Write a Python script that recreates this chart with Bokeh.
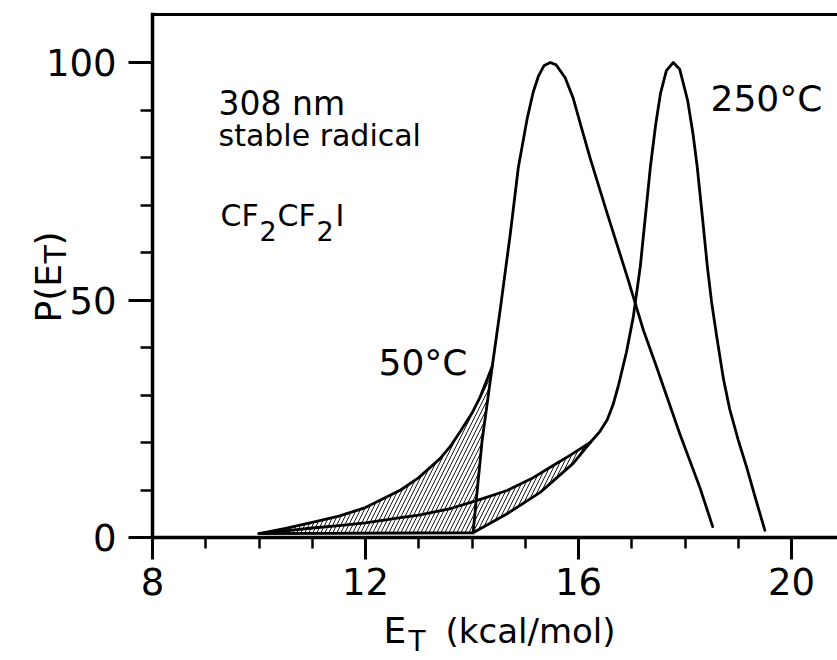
import math
from bokeh.plotting import figure
from bokeh.models import Range1d, FixedTicker, Label, LinearAxis
from bokeh.embed import file_html
from bokeh.resources import INLINE

# ---------------- data ----------------
# 50 C distribution (upper branch of hatched band + peak)
e_50 = [10.0, 10.5, 11.0, 11.5, 12.0, 12.66, 13.0, 13.4, 13.6, 13.78, 14.0, 14.15, 14.38,
        14.53, 14.72, 14.87, 15.04, 15.15, 15.25, 15.35, 15.47, 15.58, 15.75, 15.9,
        16.05, 16.22, 16.54, 16.92, 17.22, 17.47, 17.9, 18.28, 18.52]
p_50 = [0.8, 1.9, 3.2, 4.5, 6.3, 10.0, 12.6, 16.6, 19.3, 22.3, 26.2, 29.5, 36.0,
        48.0, 64.0, 77.9, 88.4, 93.8, 97.2, 99.3, 100.0, 99.5, 96.8, 92.5,
        86.5, 79.8, 68.2, 54.7, 43.6, 35.8, 21.9, 10.5, 2.3]
# 50 C alternative (steep) onset
e_50_alt = [14.02, 14.19, 14.38]
p_50_alt = [1.0, 20.4, 36.0]

# 250 C distribution (slow onset + peak)
e_250 = [10.0, 10.5, 11.0, 11.5, 12.0, 12.66, 13.0, 13.6, 14.1, 14.66, 15.15, 15.5,
         15.84, 16.22, 16.4, 16.54, 16.65, 16.75, 16.9, 17.03, 17.16, 17.35, 17.45,
         17.54, 17.65, 17.78, 17.9, 18.05, 18.15, 18.23, 18.34, 18.42, 18.5, 18.6,
         18.72, 18.84, 19.0, 19.16, 19.33, 19.5]
p_250 = [0.8, 1.4, 2.0, 2.5, 3.1, 4.2, 4.7, 6.1, 7.8, 9.9, 12.6, 15.0,
         17.3, 20.0, 22.3, 24.8, 28.0, 32.0, 39.0, 46.5, 57.0, 78.0, 87.0,
         93.5, 98.3, 100.0, 98.6, 92.0, 85.0, 78.0, 66.0, 57.0, 49.5, 42.0,
         33.5, 27.0, 20.5, 14.7, 8.0, 1.5]
# 250 C alternative onset (lower branch)
e_250_alt = [10.0, 14.02, 14.66, 15.28, 15.9, 16.22]
p_250_alt = [0.8, 1.0, 5.0, 9.5, 15.6, 20.0]

x_major = [8, 12, 16, 20]
x_minor = [9, 10, 11, 13, 14, 15, 17, 18, 19]
y_major = [0, 50, 100]
y_minor = [10, 20, 30, 40, 60, 70, 80, 90]

# ---------------- figure geometry ----------------
W, H = 837, 660
FL, FB = 152, 537          # pixel position of E=8 and P=0
SX, SY = 53.25, 4.75       # pixels per unit
X_AX, Y_AX = 8.0, 0.0
X_END = X_AX + (W - FL) / SX
Y_TOP = (FB - 14) / SY     # top frame line

def dx(px):
    return X_AX + (px - FL) / SX

def dy(py):
    return (FB - py) / SY

FONT = "DejaVu Sans"

p = figure(width=W, height=H, output_backend="svg", toolbar_location=None,
           x_range=Range1d(dx(0), dx(W)), y_range=Range1d(dy(H), dy(0)),
           x_axis_location=None, y_axis_location=None,
           min_border=0, min_border_left=0, min_border_right=0,
           min_border_top=0, min_border_bottom=0)
p.grid.visible = False
p.outline_line_color = None
p.background_fill_color = "white"
p.border_fill_color = "white"


def style(ax, tout, mout):
    ax.axis_line_width = 3.5
    ax.axis_line_color = "black"
    ax.axis_line_cap = "square"
    ax.major_tick_line_width = 3
    ax.minor_tick_line_width = 2.5
    ax.major_tick_line_color = "black"
    ax.minor_tick_line_color = "black"
    ax.major_tick_in = 0
    ax.minor_tick_in = 0
    ax.major_tick_out = tout
    ax.minor_tick_out = mout
    ax.major_label_text_font = FONT
    ax.major_label_text_font_size = "37px"
    ax.major_label_text_color = "black"


xax = LinearAxis(fixed_location=Y_AX, bounds=(X_AX, X_END),
                 ticker=FixedTicker(ticks=x_major, minor_ticks=x_minor))
style(xax, 22, 11)
xax.major_label_standoff = 8
p.add_layout(xax, "below")

yax = LinearAxis(fixed_location=X_AX, bounds=(Y_AX, Y_TOP),
                 ticker=FixedTicker(ticks=y_major, minor_ticks=y_minor))
style(yax, 24, 12)
yax.major_label_standoff = 12
p.add_layout(yax, "left")

tax = LinearAxis(fixed_location=Y_TOP, bounds=(X_AX, X_END),
                 ticker=FixedTicker(ticks=[], minor_ticks=[]))
style(tax, 0, 0)
tax.axis_line_width = 3
p.add_layout(tax, "above")

# hatched uncertainty bands
hx1 = e_50[:13] + e_50_alt[::-1][1:] + [e_250_alt[0]]
hy1 = p_50[:13] + p_50_alt[::-1][1:] + [p_250_alt[0]]
hx2 = e_250[8:14] + e_250_alt[1:][::-1]
hy2 = p_250[8:14] + p_250_alt[1:][::-1]
for hx, hy in ((hx1, hy1), (hx2, hy2)):
    p.patch(hx, hy, fill_color=None, line_color=None, hatch_pattern="/",
            hatch_color="black", hatch_scale=8, hatch_weight=0.9)

LW = 2.8
for xs, ys in ((e_50, p_50), (e_50_alt, p_50_alt), (e_250, p_250), (e_250_alt, p_250_alt)):
    p.line(xs, ys, line_color="black", line_width=LW, line_join="round", line_cap="round")

# ---------------- text ----------------
def lab(px, py, text, size, angle=0.0):
    p.add_layout(Label(x=dx(px), y=dy(py), text=text, text_font=FONT,
                       text_font_size=f"{size}px", text_color="black",
                       text_align="left", text_baseline="alphabetic", angle=angle))

lab(218, 103, "308 nm", 33)
lab(218, 135, "stable radical", 30)
lab(220, 215, "CF", 30)
lab(259, 230, "2", 27)
lab(277, 215, "CF", 30)
lab(316, 230, "2", 27)
lab(335, 215, "I", 30)
lab(378, 362, "50°C", 36)
lab(710, 98, "250°C", 36)

# x-axis title  E_T (kcal/mol)
lab(383, 630, "E", 36)
lab(408, 641, "T", 28)
lab(445, 630, "(kcal/mol)", 34)

# y-axis title  P(E_T), rotated
A = math.pi / 2
lab(48, 322, "P(E", 36, A)
lab(55, 263, "T", 30, A)
lab(48, 245, ")", 36, A)

open("out.html", "w").write(file_html(p, INLINE))
